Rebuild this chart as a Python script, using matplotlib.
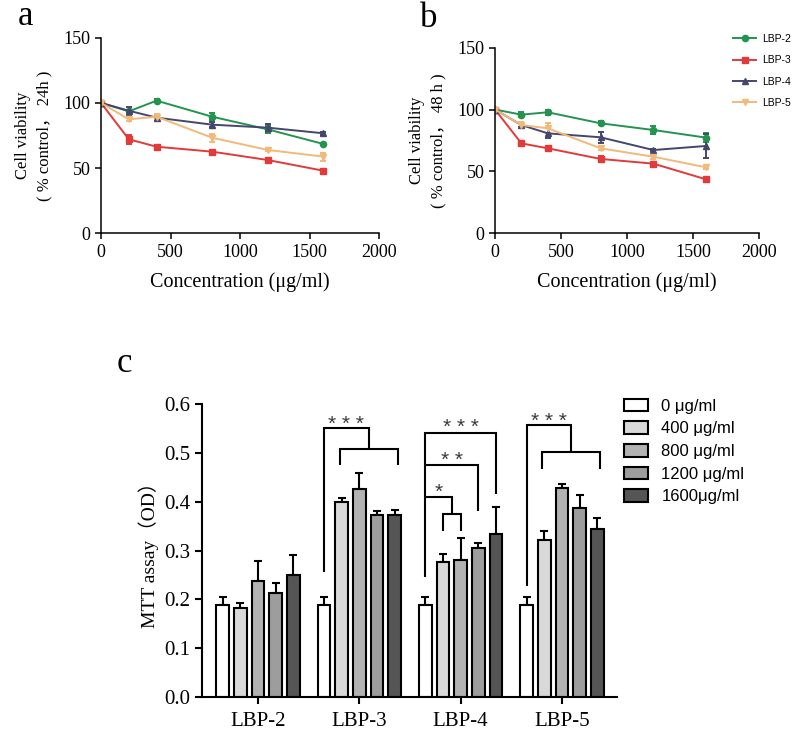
import matplotlib
matplotlib.use('Agg')
import matplotlib.pyplot as plt
import numpy as np

plt.rcParams['font.family'] = ['Liberation Serif', 'Noto Sans CJK SC']

# datos de las curvas de viabilidad
conc = [0, 200, 400, 800, 1200, 1600]
series = ['LBP-2', 'LBP-3', 'LBP-4', 'LBP-5']

via_24h = {
    'LBP-2': [100, 93.5, 101.7, 89.4, 79.7, 68.5],
    'LBP-3': [100, 72.1, 66.4, 62.6, 56.2, 48.0],
    'LBP-4': [100, 94.0, 88.7, 83.3, 81.0, 76.7],
    'LBP-5': [100, 87.4, 89.4, 73.3, 63.9, 58.8],
}
err_24h = {
    'LBP-2': [1, 1, 1, 2.5, 2.5, 1],
    'LBP-3': [1, 3.5, 1, 1, 1, 1],
    'LBP-4': [1, 3, 1.5, 2, 3, 1],
    'LBP-5': [1, 1, 2, 3, 1, 3],
}
via_48h = {
    'LBP-2': [100, 95.9, 97.8, 88.9, 83.5, 77.3],
    'LBP-3': [100, 72.7, 68.7, 60.1, 56.3, 43.6],
    'LBP-4': [100, 87.5, 80.8, 77.6, 67.3, 70.6],
    'LBP-5': [100, 87.5, 84.9, 68.7, 61.9, 53.3],
}
err_48h = {
    'LBP-2': [1, 2, 2, 1.5, 3, 3.5],
    'LBP-3': [1, 1.5, 1.5, 2.5, 1.5, 1.5],
    'LBP-4': [1, 1.5, 4, 4.5, 1, 10],
    'LBP-5': [1, 2.5, 4, 1.5, 1.5, 1.5],
}

# datos del ensayo MTT
groups = ['LBP-2', 'LBP-3', 'LBP-4', 'LBP-5']
doses = ['0 μg/ml', '400 μg/ml', '800 μg/ml', '1200 μg/ml', '1600μg/ml']
od = [
    [0.188, 0.183, 0.237, 0.212, 0.249],
    [0.188, 0.400, 0.426, 0.372, 0.372],
    [0.188, 0.276, 0.281, 0.306, 0.333],
    [0.188, 0.321, 0.429, 0.388, 0.345],
]
od_err = [
    [0.016, 0.009, 0.042, 0.022, 0.041],
    [0.016, 0.008, 0.033, 0.009, 0.011],
    [0.016, 0.017, 0.044, 0.010, 0.057],
    [0.016, 0.018, 0.008, 0.026, 0.022],
]

line_style = {
    'LBP-2': dict(color='#23944f', marker='o'),
    'LBP-3': dict(color='#e23a3a', marker='s'),
    'LBP-4': dict(color='#45466e', marker='^'),
    'LBP-5': dict(color='#f2b979', marker='v'),
}
bar_colors = ['white', '#d9d9d9', '#b2b2b2', '#9d9d9d', '#555555']

fig = plt.figure(figsize=(8, 7.37), dpi=100)


def viability_panel(ax, data, errs, ylab):
    for s in series:
        st = line_style[s]
        ax.errorbar(conc, data[s], yerr=errs[s], color=st['color'], marker=st['marker'],
                    ms=4.5, lw=1.4, elinewidth=1.4, capsize=2.5, capthick=1.4, label=s)
    ax.set_xlim(0, 2000)
    ax.set_ylim(0, 150)
    ax.set_xticks([0, 500, 1000, 1500, 2000])
    ax.set_yticks([0, 50, 100, 150])
    for sp in ['top', 'right']:
        ax.spines[sp].set_visible(False)
    for sp in ['left', 'bottom']:
        ax.spines[sp].set_linewidth(1.1)
    ax.tick_params(labelsize=13, length=4, width=1.1)
    ax.set_xlabel('Concentration (μg/ml)', fontsize=14.5, labelpad=8)
    ax.set_ylabel(ylab, fontsize=12, linespacing=1.45, labelpad=8)


ax_a = fig.add_axes([0.12625, 0.6834, 0.3475, 0.2655])
viability_panel(ax_a, via_24h, err_24h, 'Cell viability\n( % control， 24h )')
ax_b = fig.add_axes([0.61875, 0.6834, 0.33, 0.2519])
viability_panel(ax_b, via_48h, err_48h, 'Cell viability\n( % control， 48 h )')
hs, ls = ax_b.get_legend_handles_labels()
hs = [h[0] for h in hs]
fig.legend(hs, ls, loc='upper left', bbox_to_anchor=(0.905, 0.967), frameon=False,
           prop={'family': 'Liberation Sans', 'size': 7.5}, labelspacing=1.1,
           handlelength=2.2, handletextpad=0.6)

# panel c
ax_c = fig.add_axes([0.2525, 0.0547, 0.51875, 0.3967])
pitch = 0.175
width = 0.125
x = np.arange(len(groups))
for k in range(len(doses)):
    vals = [row[k] for row in od]
    errs = [row[k] for row in od_err]
    ax_c.bar(x + (k - 2) * pitch, vals, width, color=bar_colors[k], edgecolor='black',
             linewidth=1.5, label=doses[k], zorder=2)
    ax_c.errorbar(x + (k - 2) * pitch, vals, yerr=[np.zeros(len(vals)), errs], fmt='none',
                  ecolor='black', elinewidth=1.5, capsize=3, capthick=1.5, zorder=1)
ax_c.set_xlim(-0.553, 3.543)
ax_c.set_ylim(0, 0.6)
ax_c.set_xticks(x)
ax_c.set_xticklabels(groups)
ax_c.set_yticks(np.arange(0, 0.61, 0.1))
ax_c.set_yticklabels(['%.1f' % v for v in np.arange(0, 0.61, 0.1)])
for sp in ['top', 'right']:
    ax_c.spines[sp].set_visible(False)
for sp in ['left', 'bottom']:
    ax_c.spines[sp].set_linewidth(1.5)
ax_c.tick_params(labelsize=15, length=5, width=1.5)
ax_c.tick_params(axis='x', pad=6)
ax_c.set_ylabel('MTT assay（OD）', fontsize=14)


def bx(g, k):
    return g + (k - 2) * pitch


def stars(xc, y, txt):
    ax_c.text(xc, y, ' '.join(txt), ha='center', va='baseline', fontsize=15,
              family='Liberation Sans', color='#3a3a3a')


lw = 1.5
kw = dict(color='black', lw=lw, solid_capstyle='butt', solid_joinstyle='miter')
# LBP-3 y LBP-5: grupo 0 contra el resto
for g, top, leg, low, lowleg in [(1, 0.551, 0.255, 0.508, 0.476), (3, 0.557, 0.227, 0.502, 0.467)]:
    x0 = bx(g, 0)
    xl1, xl2 = bx(g, 1) - 0.02, bx(g, 4) + 0.03
    xm = (xl1 + xl2) / 2
    ax_c.plot([x0, x0, xm, xm], [leg, top, top, low], **kw)
    ax_c.plot([xl1, xl1, xl2, xl2], [lowleg, low, low, lowleg], **kw)
    stars((x0 + xm) / 2, top - 0.003, '***')
# LBP-4
g = 2
x0 = bx(g, 0)
ax_c.plot([x0, x0, bx(g, 4), bx(g, 4)], [0.245, 0.542, 0.542, 0.416], **kw)
stars((x0 + bx(g, 4)) / 2, 0.541, '***')
ax_c.plot([x0, bx(g, 3), bx(g, 3)], [0.475, 0.475, 0.382], **kw)
stars((x0 + bx(g, 3)) / 2, 0.474, '**')
xm = (bx(g, 1) + bx(g, 2)) / 2
ax_c.plot([x0, xm, xm], [0.410, 0.410, 0.374], **kw)
ax_c.plot([bx(g, 1), bx(g, 1), bx(g, 2), bx(g, 2)], [0.339, 0.374, 0.374, 0.339], **kw)
stars((x0 + xm) / 2, 0.409, '*')

hc, lc = ax_c.get_legend_handles_labels()
fig.legend(hc, lc, loc='upper left', bbox_to_anchor=(0.761, 0.4795), frameon=False,
           prop={'family': 'Liberation Sans', 'size': 12}, labelspacing=0.45,
           handlelength=1.45, handleheight=0.8, handletextpad=0.8)

fig.text(0.022, 0.966, 'a', fontsize=25, va='baseline')
fig.text(0.525, 0.963, 'b', fontsize=25, va='baseline')
fig.text(0.146, 0.495, 'c', fontsize=25, va='baseline')

plt.savefig('out.png', dpi=100)
plt.close()
